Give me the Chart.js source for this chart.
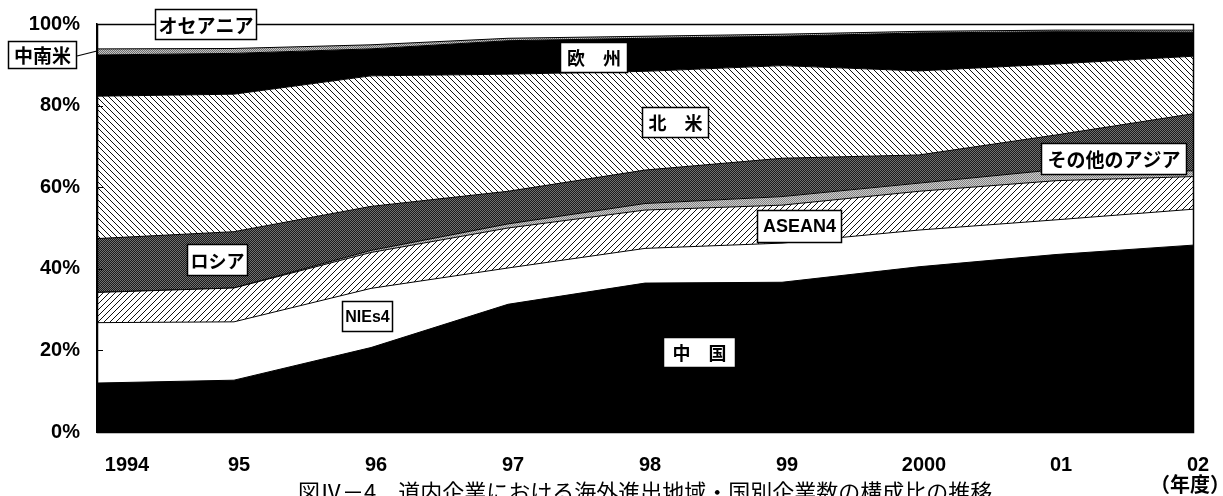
<!DOCTYPE html>
<html lang="ja">
<head>
<meta charset="utf-8">
<script src="https://cdn.jsdelivr.net/npm/chart.js@4.4.1/dist/chart.umd.min.js"></script>
<style>
  html, body { margin: 0; padding: 0; background: #fff; overflow: hidden; }
  #wrap { position: relative; width: 1223px; height: 496px; }
</style>
</head>
<body>
<div id="wrap"><canvas id="c" width="1223" height="496"></canvas></div>
<script>
// 年度
const years = ['1994', '95', '96', '97', '98', '99', '2000', '01', '02'];

// 地域・国別の構成比（%）
const china      = [12.0, 12.7, 20.7, 31.3, 36.5, 36.7, 40.5, 43.5, 45.8];
const nies4      = [14.8, 14.3, 14.5,  8.9,  8.5,  9.6,  9.0,  8.5,  8.8];
const asean4     = [ 7.4,  8.3,  8.8,  9.8,  9.4,  9.3,  9.5,  9.6,  8.0];
const otherAsia  = [ 0.0,  0.0,  0.5,  1.0,  1.6,  2.1,  2.0,  2.7,  1.4];
const russia     = [13.2, 13.8, 10.8,  8.0,  8.2,  9.4,  6.9,  8.5, 14.0];
const northAm    = [34.9, 33.7, 32.0, 28.7, 24.2, 22.7, 20.6, 17.4, 14.1];
const europe     = [10.1, 10.0,  6.6,  8.2,  8.1,  7.2,  9.3,  7.9,  5.9];
const latinAm    = [ 1.5,  1.2,  1.0,  0.6,  0.5,  0.5,  0.4,  0.4,  0.5];
const oceania    = [ 6.1,  6.0,  5.1,  3.5,  3.0,  2.5,  1.8,  1.5,  1.5];

// 縦軸目盛
const yTicks = [0, 20, 40, 60, 80, 100];

const NUM_FONT = '"Liberation Sans", Arial, sans-serif';
const JP_FONT = '"Noto Sans CJK JP", "Noto Sans CJK SC", sans-serif';

// --- fill patterns (monochrome print style) ---
const helperCtx = document.createElement('canvas').getContext('2d');
function makePattern(w, h, paint) {
  const c = document.createElement('canvas');
  c.width = w; c.height = h;
  const g = c.getContext('2d');
  paint(g, w, h);
  return helperCtx.createPattern(c, 'repeat');
}
function hatch(dir) {
  return makePattern(6, 6, (g, w, h) => {
    g.fillStyle = '#fff'; g.fillRect(0, 0, w, h);
    for (let i = 0; i < w; i++) {
      const y = dir > 0 ? (h - 1 - i) : i;
      g.fillStyle = '#111'; g.fillRect(i, y, 1, 1);
    }
  });
}
function checker(a, b) {
  return makePattern(2, 2, (g) => {
    g.fillStyle = a; g.fillRect(0, 0, 2, 2);
    g.fillStyle = b; g.fillRect(0, 0, 1, 1); g.fillRect(1, 1, 1, 1);
  });
}

const fills = {
  china: '#000',
  nies4: '#fff',
  asean4: hatch(1),
  otherAsia: checker('#d0d0d0', '#808080'),
  russia: checker('#1a1a1a', '#707070'),
  northAm: hatch(-1),
  europe: '#000',
  latinAm: checker('#c4c4c4', '#6e6e6e'),
  oceania: '#fff'
};

const series = [
  ['中国', china, fills.china],
  ['NIEs4', nies4, fills.nies4],
  ['ASEAN4', asean4, fills.asean4],
  ['その他のアジア', otherAsia, fills.otherAsia],
  ['ロシア', russia, fills.russia],
  ['北米', northAm, fills.northAm],
  ['欧州', europe, fills.europe],
  ['中南米', latinAm, fills.latinAm],
  ['オセアニア', oceania, fills.oceania]
];

// 系列名ラベル（枠付き）
const tags = [
  { t: 'オセアニア', x: 155, y: 9, w: 102, h: 31, f: JP_FONT, s: 19 },
  { t: '中南米', x: 8, y: 41, w: 69, h: 28, f: JP_FONT, s: 19, lead: [77, 56, 97, 51] },
  { t: '欧　州', x: 560, y: 42, w: 68, h: 31, f: JP_FONT, s: 18 },
  { t: '北　米', x: 642, y: 107, w: 67, h: 31, f: JP_FONT, s: 18 },
  { t: 'その他のアジア', x: 1041, y: 143, w: 146, h: 32, f: JP_FONT, s: 19 },
  { t: 'ASEAN4', x: 757, y: 210, w: 85, h: 33, f: NUM_FONT, s: 18 },
  { t: 'ロシア', x: 187, y: 244, w: 61, h: 32, f: JP_FONT, s: 18 },
  { t: 'NIEs4', x: 342, y: 301, w: 51, h: 31, f: NUM_FONT, s: 16 },
  { t: '中　国', x: 663, y: 337, w: 73, h: 31, f: JP_FONT, s: 18 }
];

const decor = {
  id: 'decor',
  afterDraw(chart) {
    const { ctx, chartArea: a, scales } = chart;
    ctx.save();
    // plot frame
    ctx.strokeStyle = '#000';
    ctx.lineWidth = 1.5;
    ctx.strokeRect(a.left + 0.5, a.top + 0.5, a.right - a.left, a.bottom - a.top);
    // inner tick marks on the value axis
    ctx.lineWidth = 1;
    yTicks.forEach(v => {
      const y = Math.round(scales.y.getPixelForValue(v)) + 0.5;
      ctx.beginPath(); ctx.moveTo(a.left, y); ctx.lineTo(a.left + 6, y); ctx.stroke();
    });
    // category labels
    ctx.fillStyle = '#000';
    ctx.font = 'bold 20px ' + NUM_FONT;
    ctx.textAlign = 'center';
    ctx.textBaseline = 'middle';
    years.forEach((yr, i) => {
      const x = scales.x.getPixelForValue(i) + (i === 0 ? 30 : 5);
      ctx.fillText(yr, x, 465);
    });
    ctx.font = 'bold 20px ' + JP_FONT;
    ctx.fillText('（年度）', 1190, 484);
    // caption (bottom edge of the page)
    ctx.font = '22px ' + JP_FONT;
    ctx.textAlign = 'left';
    ctx.textBaseline = 'top';
    ctx.fillText('図Ⅳ－4　道内企業における海外進出地域・国別企業数の構成比の推移', 298, 481);
    // series name tags
    tags.forEach(tg => {
      if (tg.lead) {
        ctx.lineWidth = 1.2;
        ctx.beginPath(); ctx.moveTo(tg.lead[0], tg.lead[1]); ctx.lineTo(tg.lead[2], tg.lead[3]); ctx.stroke();
      }
      ctx.fillStyle = '#fff';
      ctx.fillRect(tg.x, tg.y, tg.w, tg.h);
      ctx.lineWidth = 1.5;
      ctx.strokeStyle = '#000';
      ctx.strokeRect(tg.x + 0.5, tg.y + 0.5, tg.w - 1, tg.h - 1);
      ctx.fillStyle = '#000';
      ctx.font = 'bold ' + tg.s + 'px ' + tg.f;
      ctx.textAlign = 'center';
      ctx.textBaseline = 'middle';
      ctx.fillText(tg.t, tg.x + tg.w / 2, tg.y + tg.h / 2 + 1);
    });
    ctx.restore();
  }
};

new Chart(document.getElementById('c'), {
  type: 'line',
  data: {
    labels: years,
    datasets: series.map(([name, data, bg], i) => ({
      label: name,
      data: data,
      backgroundColor: bg,
      borderColor: '#000',
      borderWidth: 1,
      pointRadius: 0,
      tension: 0,
      fill: i === 0 ? 'origin' : '-1'
    }))
  },
  options: {
    responsive: false,
    animation: false,
    layout: { padding: { left: 0, right: 30, top: 24, bottom: 0 } },
    plugins: { legend: { display: false }, tooltip: { enabled: false } },
    scales: {
      x: {
        offset: false,
        grid: { display: false },
        border: { display: true, color: '#000', width: 1.5 },
        ticks: { display: false },
        afterFit(s) { s.height = 64; }
      },
      y: {
        stacked: true,
        min: 0,
        max: 100,
        grid: { display: false, drawTicks: false },
        border: { display: true, color: '#000', width: 1.5 },
        ticks: {
          stepSize: 20,
          padding: 17,
          color: '#000',
          font: { family: NUM_FONT, size: 20, weight: 'bold' },
          callback: v => v + '%'
        },
        afterFit(s) {
          s.width = 97;
          s.paddingTop = 10;
          s.paddingBottom = 10;
        }
      }
    }
  },
  plugins: [decor]
});
</script>
</body>
</html>
